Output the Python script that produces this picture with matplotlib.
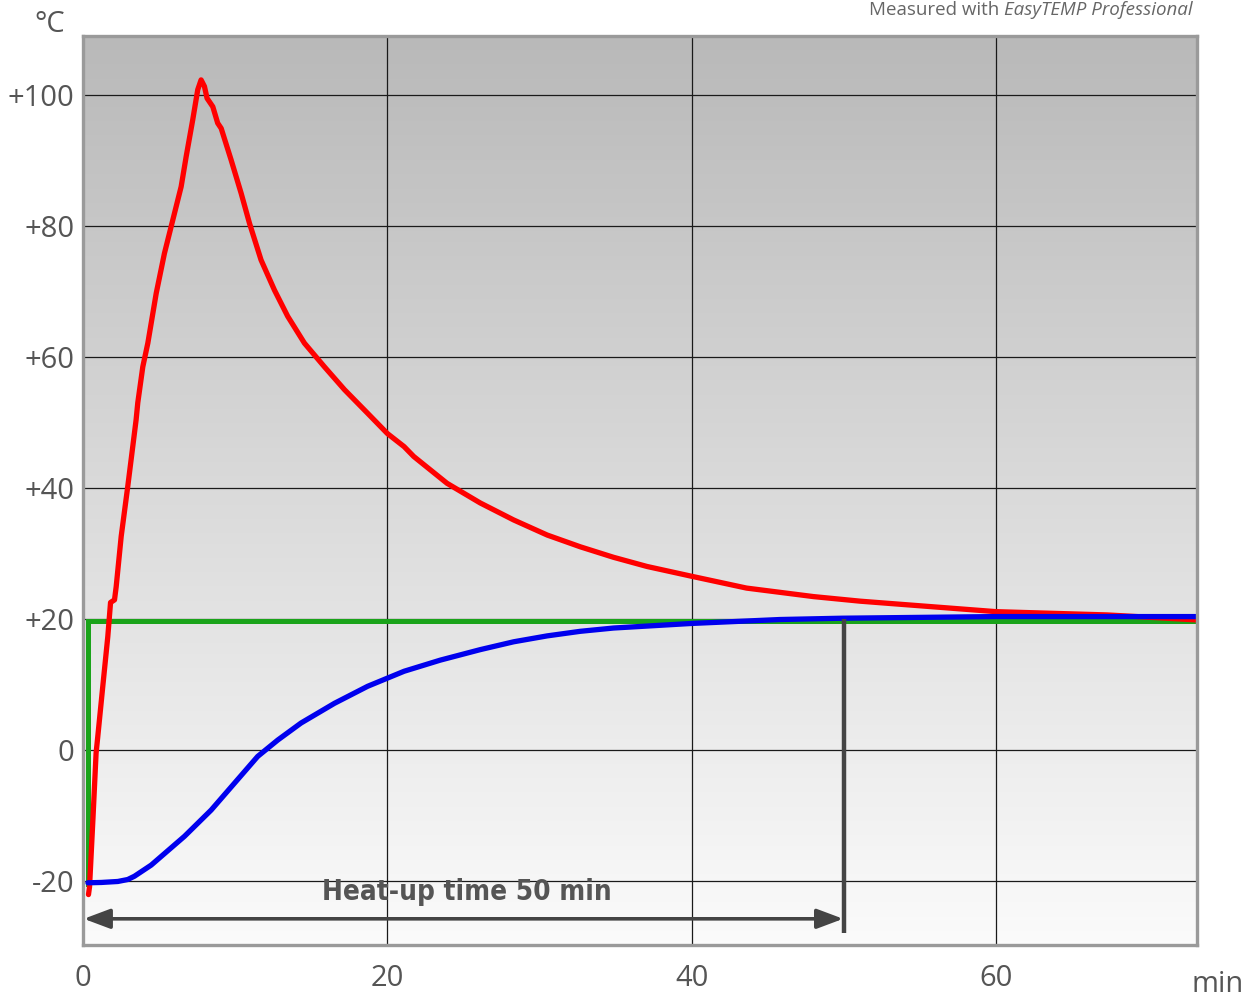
import numpy as np
import matplotlib
matplotlib.use("Agg")
import matplotlib.pyplot as plt
from matplotlib.colors import LinearSegmentedColormap

# ---- data ----
red_t = [0.36, 0.43, 0.65, 0.86, 0.97, 1.30, 1.63, 1.81, 2.07, 2.18, 2.51, 2.94, 3.49, 3.6, 3.93, 4.26,
         4.81, 5.35, 5.9, 6.45, 6.78, 7.21, 7.54, 7.76, 7.98, 8.15, 8.53, 8.85, 9.08, 9.73, 10.39,
         10.94, 11.7, 12.58, 13.45, 14.55, 15.86, 17.18, 18.7, 20.0, 21.1, 21.73, 23.92, 26.1, 28.3,
         30.5, 32.68, 34.86, 37.06, 40.0, 43.6, 48.0, 51.07, 60.0, 67.3, 73.1]
red_T = [-22.1, -20.9, -10.7, -0.5, 2.0, 9.7, 17.3, 22.5, 22.9, 24.9, 32.6, 40.2, 50.4, 53.0, 58.5, 62.1,
         69.7, 75.8, 80.9, 86.0, 90.6, 96.2, 100.8, 102.3, 101.3, 99.5, 98.2, 95.7, 94.9, 90.1, 85.0,
         80.4, 74.8, 70.2, 66.2, 62.1, 58.5, 55.0, 51.4, 48.3, 46.3, 44.8, 40.7, 37.7, 35.1,
         32.8, 31.0, 29.4, 28.0, 26.5, 24.7, 23.4, 22.7, 21.1, 20.6, 19.85]

blue_t = [0.32, 1.2, 2.29, 2.94, 3.38, 4.48, 6.67, 8.42, 9.95, 11.48, 12.8, 14.33, 16.52, 18.7, 21.1,
          23.48, 26.1, 28.3, 30.5, 32.68, 34.86, 37.06, 40.0, 45.8, 49.9, 60.0, 73.1]
blue_T = [-20.3, -20.25, -20.1, -19.8, -19.3, -17.6, -13.2, -9.2, -5.1, -1.0, 1.5, 4.1, 7.1, 9.7, 12.0,
          13.7, 15.3, 16.5, 17.4, 18.1, 18.6, 18.9, 19.3, 19.9, 20.1, 20.35, 20.35]

green_t = [0.32, 0.32, 73.1]
green_T = [-20.5, 19.7, 19.7]

heatup_time = 50
x_ticks = [0, 20, 40, 60]
x_labels = ["0", "20", "40", "60"]
y_ticks = [-20, 0, 20, 40, 60, 80, 100]
y_labels = ["-20", "0", "+20", "+40", "+60", "+80", "+100"]

plt.rcParams['font.family'] = ['Open Sans', 'DejaVu Sans']

W, H = 1245, 998
fig = plt.figure(figsize=(W / 100, H / 100), dpi=100)
ax = fig.add_axes([83 / W, 1 - 945 / H, (1197 - 83) / W, (945 - 36) / H])
xmin, xmax = 0.0, 73.2
ymin, ymax = -29.8, 109.0
ax.set_xlim(xmin, xmax)
ax.set_ylim(ymin, ymax)

# gradient background
cmap = LinearSegmentedColormap.from_list("bg", ["#fbfbfb", "#b9b9b9"])
grad = np.linspace(0, 1, 256).reshape(-1, 1)
ax.imshow(grad, cmap=cmap, aspect='auto', origin='lower',
          extent=[xmin, xmax, ymin, ymax], zorder=0)

for x in x_ticks[1:]:
    ax.axvline(x, color="#1a1a1a", lw=0.9, zorder=1)
for y in y_ticks:
    ax.axhline(y, color="#1a1a1a", lw=0.9, zorder=1)

ax.plot(green_t, green_T, color="#1aa31a", lw=3.6, zorder=3, solid_joinstyle='miter')
ax.plot(red_t, red_T, color="#ff0000", lw=3.8, zorder=4, solid_capstyle='round',
        solid_joinstyle='round')
ax.plot(blue_t, blue_T, color="#0000ee", lw=3.8, zorder=5, solid_capstyle='round',
        solid_joinstyle='round')

# heat-up marker
ax.plot([heatup_time, heatup_time], [20, -27.9], color="#444444", lw=3.2, zorder=6,
        solid_capstyle='butt')
ax.annotate("", xy=(0.05, -25.8), xytext=(heatup_time - 0.05, -25.8),
            arrowprops=dict(arrowstyle="<|-|>,head_length=1.6,head_width=0.6",
                            color="#444444", lw=2.6, shrinkA=0, shrinkB=0), zorder=6)
ax.text(15.7, -21.7, "Heat-up time 50 min", fontsize=20, fontweight='bold',
        family=['DejaVu Sans'], fontstretch='condensed',
        color="#555555", ha='left', va='center', zorder=7)

for s in ax.spines.values():
    s.set_color("#9a9a9a")
    s.set_linewidth(2.4)
    s.set_zorder(8)

ax.set_xticks(x_ticks)
ax.set_xticklabels(x_labels)
ax.set_yticks(y_ticks)
ax.set_yticklabels(y_labels)
ax.tick_params(length=0, labelsize=21, labelcolor="#555555")
ax.tick_params(axis='y', pad=6)
ax.tick_params(axis='x', pad=14)

fig.text(50 / W, 1 - 24 / H, "°C", fontsize=21, color="#555555", ha='center', va='center')
fig.text(1218 / W, 1 - 984 / H, "min", fontsize=21, color="#555555", ha='center', va='center')
t1 = fig.text(1193 / W, 1 - 10 / H, "EasyTEMP Professional", fontsize=13.5, color="#666666",
              ha='right', va='center', style='italic')
fig.canvas.draw()
bb = t1.get_window_extent()
fig.text(bb.x0 / W, 1 - 10 / H, "Measured with ", fontsize=13.5, color="#666666",
         ha='right', va='center')

fig.savefig("out.png", dpi=100)
